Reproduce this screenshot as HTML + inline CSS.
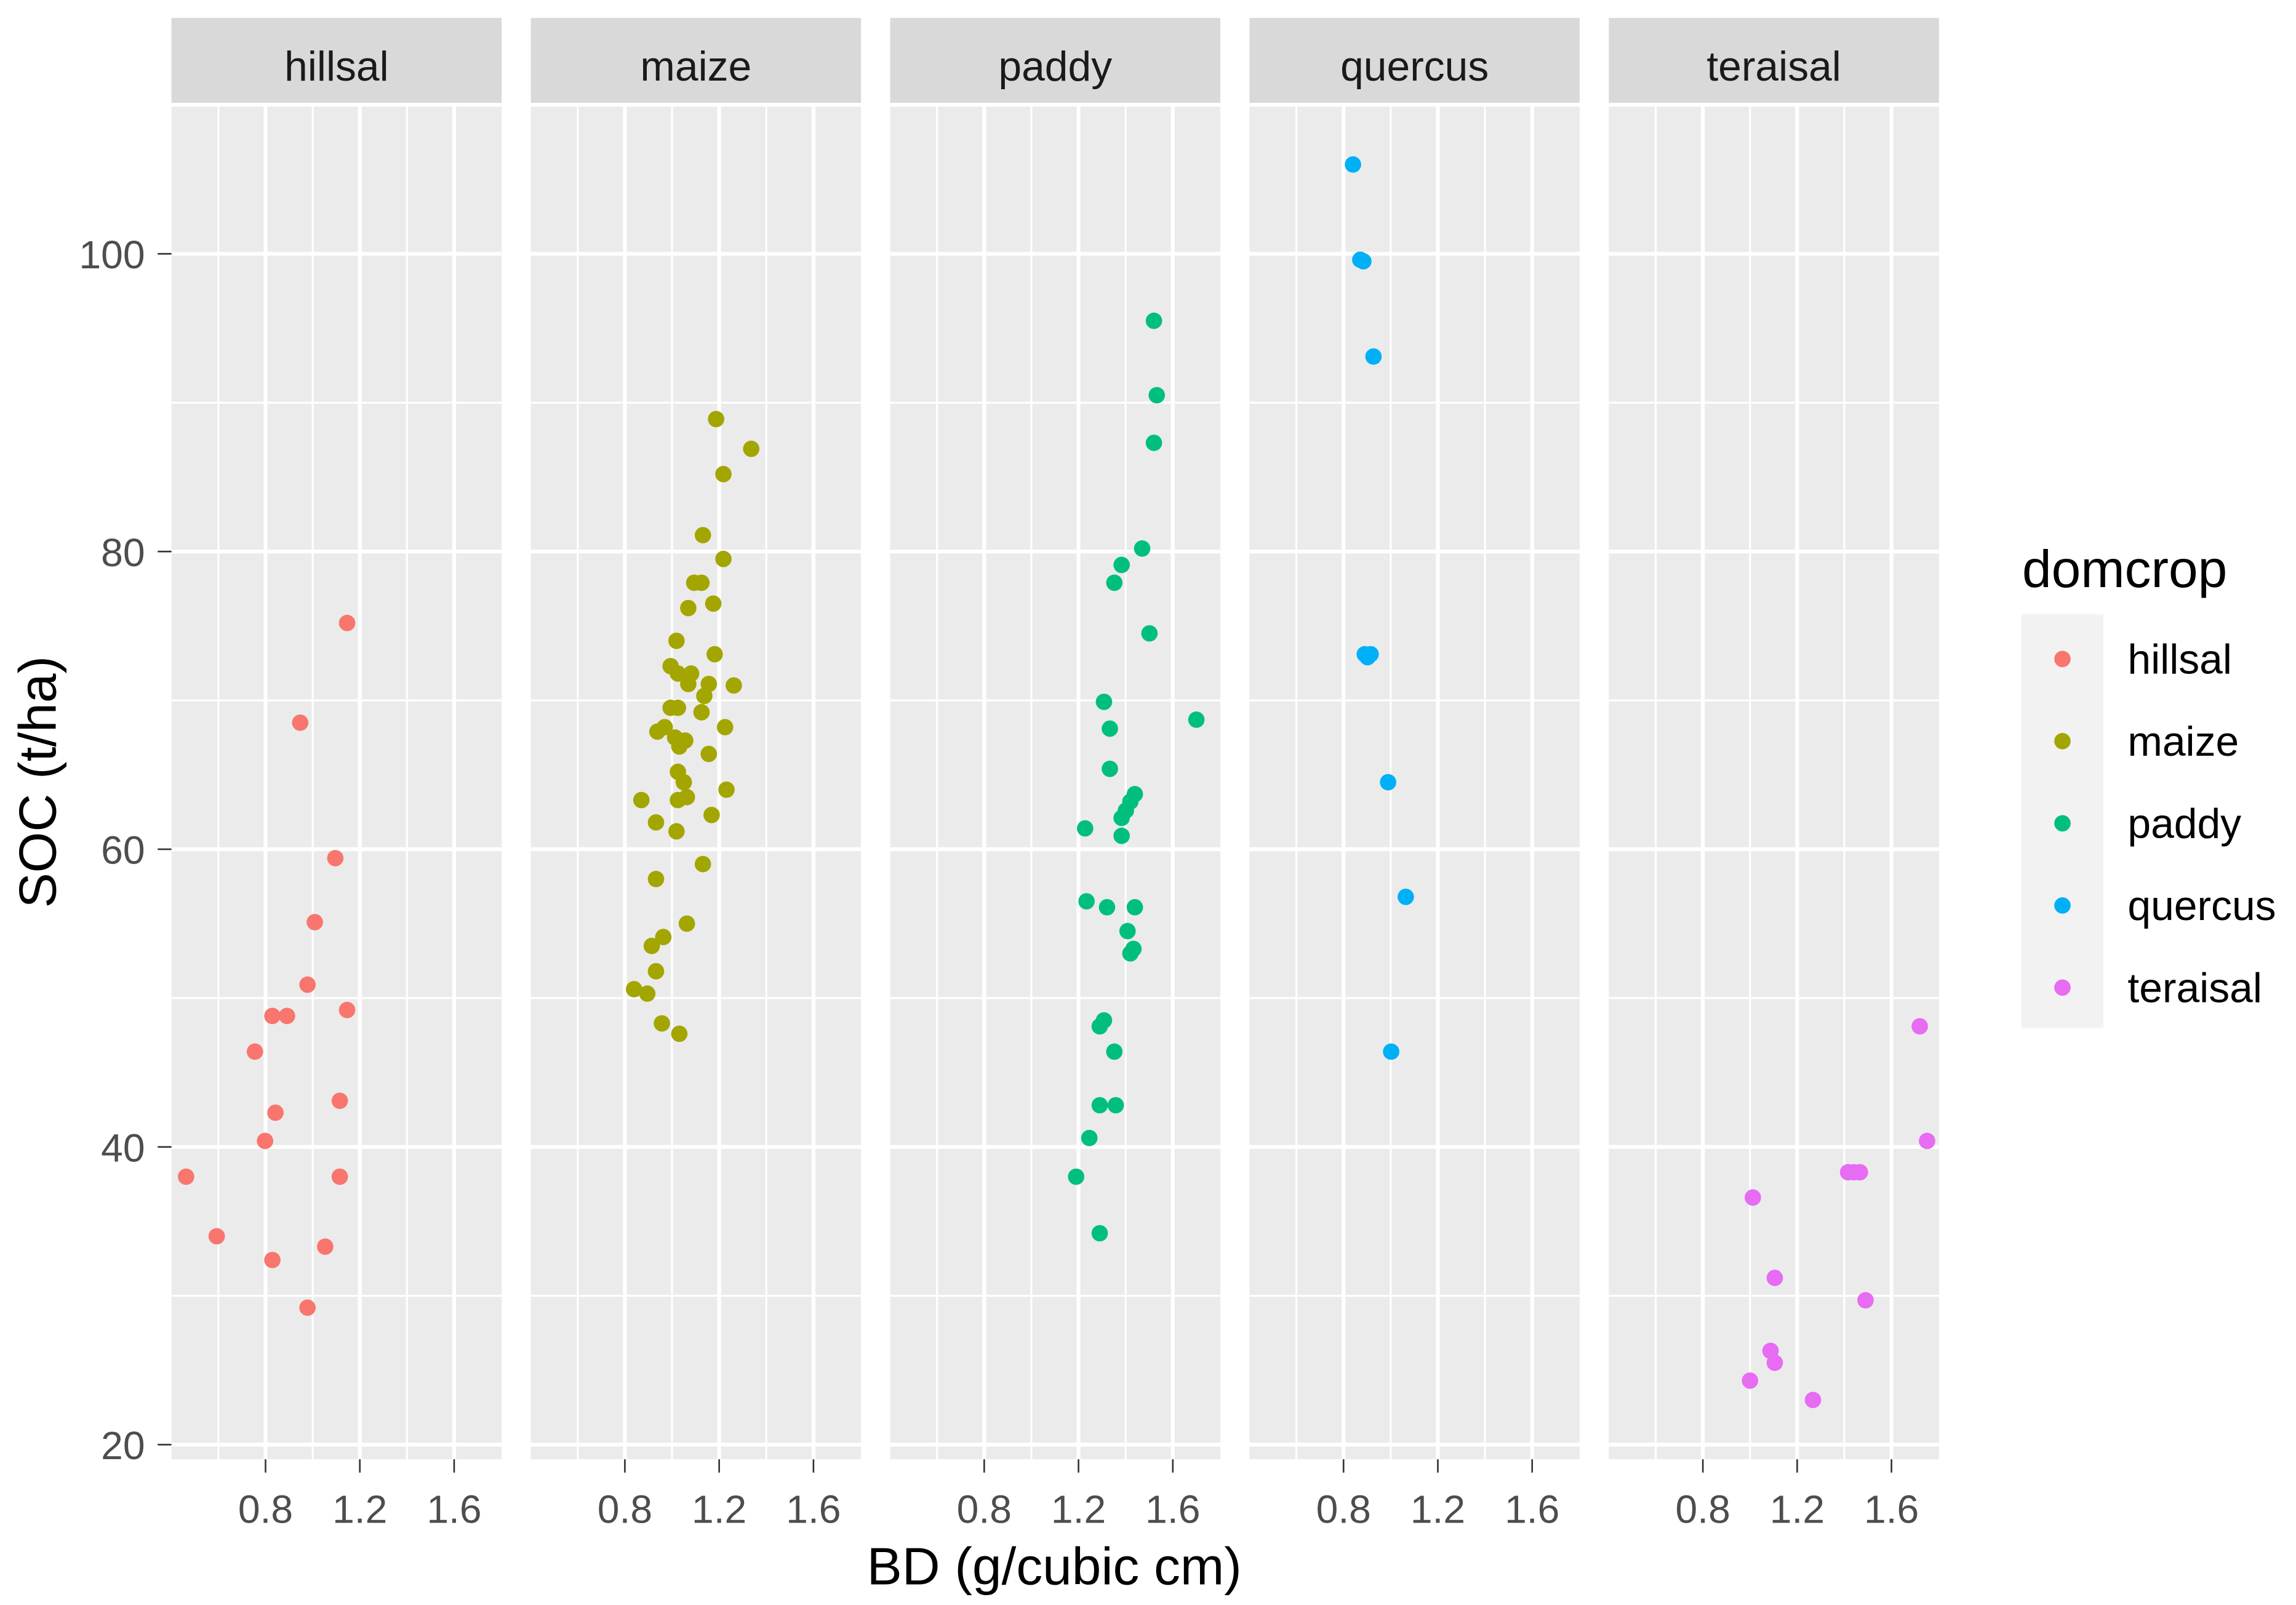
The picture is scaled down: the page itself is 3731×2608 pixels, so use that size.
<!DOCTYPE html>
<html><head><meta charset="utf-8"><style>
html,body{margin:0;padding:0;background:#fff;}
svg{display:block;font-family:"Liberation Sans",Arial,sans-serif;}
</style></head><body>
<svg id="chart" width="3731" height="2608" viewBox="0 0 1568 1096" xmlns="http://www.w3.org/2000/svg">
<rect x="0" y="0" width="1568" height="1096" fill="#fff"/>
<g id="panels"></g>
<g id="yaxis"></g>
<text x="720" y="1082" font-size="36" text-anchor="middle" fill="#000">BD (g/cubic cm)</text>
<text transform="translate(38,534) rotate(-90)" font-size="36" text-anchor="middle" fill="#000">SOC (t/ha)</text>
<g id="legend">
<text x="1381" y="401" font-size="36" fill="#000">domcrop</text>
<rect x="1380.5" y="419.5" width="56" height="282.5" fill="#F2F2F2"/>
</g>
</svg>
<script>
const categories = ["hillsal","maize","paddy","quercus","teraisal"];
const colors = ["#F8766D","#A3A500","#00BF7D","#00B0F6","#E76BF3"];
const xTicks = [0.8,1.2,1.6];
const xTickLabels = ["0.8","1.2","1.6"];
const xMinor = [0.6,1.0,1.4];
const yTicks = [20,40,60,80,100];
const yTickLabels = ["20","40","60","80","100"];
const yMinor = [30,50,70,90,110];
const hillsalBD  = [0.463,0.593,0.755,0.798,0.829,0.891,0.842,0.829,0.947,0.978,0.978,1.009,1.053,1.096,1.146,1.146,1.115,1.115];
const hillsalSOC = [38.0,34.0,46.4,40.4,48.8,48.8,42.3,32.4,68.5,50.9,29.2,55.1,33.3,59.4,75.2,49.2,43.1,38.0];
const maizeBD  = [1.187,1.336,1.218,1.131,1.218,1.094,1.125,1.069,1.175,1.019,1.181,0.994,1.025,1.081,1.069,1.156,1.262,1.137,1.125,0.994,1.025,0.969,0.938,1.013,1.056,1.225,1.031,1.156,1.025,1.050,1.063,1.025,1.231,0.870,1.168,0.932,1.019,1.131,0.932,1.063,0.963,0.914,0.932,0.839,0.895,0.957,1.031];
const maizeSOC = [88.9,86.9,85.2,81.1,79.5,77.9,77.9,76.2,76.5,74.0,73.1,72.3,71.8,71.8,71.1,71.1,71.0,70.3,69.2,69.5,69.5,68.2,67.9,67.5,67.3,68.2,66.9,66.4,65.2,64.5,63.5,63.3,64.0,63.3,62.3,61.8,61.2,59.0,58.0,55.0,54.1,53.5,51.8,50.6,50.3,48.3,47.6];
const paddyBD  = [1.520,1.532,1.520,1.470,1.383,1.352,1.501,1.308,1.700,1.333,1.333,1.439,1.420,1.401,1.383,1.383,1.228,1.234,1.321,1.439,1.408,1.433,1.420,1.308,1.290,1.352,1.290,1.358,1.246,1.190,1.290];
const paddySOC = [95.5,90.5,87.3,80.2,79.1,77.9,74.5,69.9,68.7,68.1,65.4,63.7,63.2,62.6,62.1,60.9,61.4,56.5,56.1,56.1,54.5,53.3,53.0,48.5,48.1,46.4,42.8,42.8,40.6,38.0,34.2];
const quercusBD  = [0.840,0.871,0.884,0.927,0.890,0.915,0.902,0.989,1.064,1.002];
const quercusSOC = [106.0,99.6,99.5,93.1,73.1,73.1,72.9,64.5,56.8,46.4];
const teraisalBD  = [1.720,1.751,1.416,1.441,1.466,1.012,1.105,1.490,1.087,1.105,1.000,1.267];
const teraisalSOC = [48.1,40.4,38.3,38.3,38.3,36.6,31.2,29.7,26.3,25.5,24.3,23.0];
const seriesBD = [hillsalBD,maizeBD,paddyBD,quercusBD,teraisalBD];
const seriesSOC = [hillsalSOC,maizeSOC,paddySOC,quercusSOC,teraisalSOC];

const NS="http://www.w3.org/2000/svg";
const panelTop=72.8, panelBottom=996.5, panelW=225.5, panelStep=245.4, firstLeft=117.1;
const xMinV=0.401, xPerUnit=161;
function yScale(v){return 986.5-(v-20)*10.165;}
function xScale(v,left){return left+(v-xMinV)*xPerUnit;}
function mk(tag,attrs,parent){const e=document.createElementNS(NS,tag);for(const k in attrs)e.setAttribute(k,attrs[k]);parent.appendChild(e);return e;}
const panels=document.getElementById('panels');
categories.forEach((cat,i)=>{
  const left=firstLeft+i*panelStep, right=left+panelW;
  const g=mk('g',{},panels);
  
  
  const strip=mk('rect',{x:left,y:12.2,width:panelW,height:58,fill:'#D9D9D9'},g);
  
  
  const st=mk('text',{x:left+panelW/2,y:55,'font-size':28.5,'text-anchor':'middle',fill:'#1A1A1A'},g);
  st.textContent=cat;
  
  
  const bg=mk('rect',{x:left,y:panelTop,width:panelW,height:panelBottom-panelTop,fill:'#EBEBEB'},g);
  
  
  yMinor.forEach(v=>{const y=yScale(v);if(y>panelTop&&y<panelBottom){const l=mk('line',{x1:left,x2:right,y1:y,y2:y,stroke:'#fff','stroke-width':1.3},g);}});
  xMinor.forEach(v=>{const x=xScale(v,left);const l=mk('line',{x1:x,x2:x,y1:panelTop,y2:panelBottom,stroke:'#fff','stroke-width':1.3},g);});
  yTicks.forEach(v=>{const y=yScale(v);const l=mk('line',{x1:left,x2:right,y1:y,y2:y,stroke:'#fff','stroke-width':2.6},g);});
  xTicks.forEach((v,k)=>{const x=xScale(v,left);
    const l=mk('line',{x1:x,x2:x,y1:panelTop,y2:panelBottom,stroke:'#fff','stroke-width':2.6},g);
    
    const t=mk('line',{x1:x,x2:x,y1:panelBottom,y2:1005.6,stroke:'#333','stroke-width':1.1},g);
    
    const tl=mk('text',{x:x,y:1040,'font-size':27,'text-anchor':'middle',fill:'#4D4D4D'},g);
    tl.textContent=xTickLabels[k];
    
  });
  const bd=seriesBD[i], soc=seriesSOC[i];
  bd.forEach((v,j)=>{
    const c=mk('circle',{cx:xScale(v,left),cy:yScale(soc[j]),r:5.6,fill:colors[i]},g);
    
    
  });
});
const ya=document.getElementById('yaxis');
yTicks.forEach((v,k)=>{const y=yScale(v);
  const t=mk('line',{x1:107.7,x2:117.1,y1:y,y2:y,stroke:'#333','stroke-width':1.1},ya);
  
  const tl=mk('text',{x:99,y:y+10,'font-size':27,'text-anchor':'end',fill:'#4D4D4D'},ya);
  tl.textContent=yTickLabels[k];
  
});
const lg=document.getElementById('legend');
categories.forEach((cat,i)=>{const cy=450+i*56.1;
  const c=mk('circle',{cx:1408.5,cy:cy,r:5.6,fill:colors[i]},lg);
  
  const t=mk('text',{x:1453,y:cy+10,'font-size':28.5,fill:'#000'},lg);
  t.textContent=cat;
  
});
</script>
</body></html>
